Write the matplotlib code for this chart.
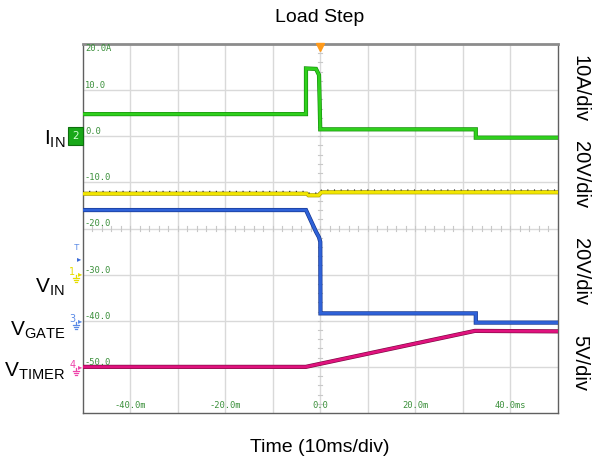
import matplotlib
matplotlib.use("Agg")
import matplotlib.pyplot as plt
import matplotlib.patheffects as pe
from matplotlib.lines import Line2D
import numpy as np

plt.rcParams['font.family'] = ['Liberation Sans', 'DejaVu Sans']
plt.rcParams['mathtext.fontset'] = 'custom'
plt.rcParams['mathtext.rm'] = 'Liberation Sans'
plt.rcParams['mathtext.it'] = 'Liberation Sans'

# ---------------- data (time in ms, values on the 10 A/div scale) ----------------
t_iin = [-50, -2.95, -2.95, -0.84, -0.21, -0.06, 0.05, 32.8, 32.8, 50]
v_iin = [4.8, 4.8, 14.7, 14.6, 13.3, 7.0, 1.5, 1.5, -0.3, -0.3]

t_vin = [-50, -2.8, -2.4, -0.3, 0.3, 50]
v_vin = [-12.45, -12.45, -12.8, -12.8, -12.15, -12.15]

t_vgate = [-50, -2.95, -0.84, -0.21, 0.06, 0.1, 32.8, 32.8, 50]
v_vgate = [-16.0, -16.0, -20.7, -21.9, -22.9, -38.4, -38.4, -40.4, -40.4]

t_vtimer = [-50, -3.0, 32.6, 50]
v_vtimer = [-50.0, -50.0, -42.2, -42.3]

y_tick_vals = [20, 10, 0, -10, -20, -30, -40, -50]
y_tick_text = ["20.0A", "10.0", "0.0", "-10.0", "-20.0", "-30.0", "-40.0", "-50.0"]
x_tick_vals = [-40, -20, 0, 20, 40]
x_tick_text = ["-40.0m", "-20.0m", "0.0", "20.0m", "40.0ms"]

scale_labels = ["10A/div", "20V/div", "20V/div", "5V/div"]
# ------------------------------------------------------------------------------------

W, H = 592, 471
fig = plt.figure(figsize=(W / 100, H / 100), dpi=100)

def fx(px):
    return px / W

def fy(py):
    return 1 - py / H

ax = fig.add_axes([fx(82.5), fy(413), fx(557.5) - fx(82.5), fy(44) - fy(413)])
ax.set_xlim(-50, 50)
ax.set_ylim(-60, 20)
ax.set_xticks([])
ax.set_yticks([])

# grid
for gx in np.arange(-40, 50, 10):
    ax.axvline(gx, color='#d9d9d9', lw=1.0, zorder=0)
for gy in np.arange(-50, 20, 10):
    ax.axhline(gy, color='#d9d9d9', lw=1.0, zorder=0)

# center-line minor ticks
for mt in np.arange(-50, 50.01, 2):
    ax.plot([mt, mt], [-20 - 0.45, -20 + 0.45], color='#c8c8c8', lw=0.8, zorder=0)
for mt in np.arange(-60, 20.01, 2):
    ax.plot([-0.45, 0.45], [mt, mt], color='#c8c8c8', lw=0.8, zorder=0)

for s in ['left', 'bottom', 'right']:
    ax.spines[s].set_color('#606060')
    ax.spines[s].set_linewidth(1.0)
ax.spines['top'].set_color('#8c8c8c')
ax.spines['top'].set_linewidth(2.0)

# traces
def trace(t, v, light, dark, z):
    ax.plot(t, v, color=light, lw=2.1, solid_joinstyle='miter', zorder=z,
            path_effects=[pe.Stroke(linewidth=3.0, foreground=dark), pe.Normal()])

trace(t_vin, v_vin, '#f2e600', '#a89c00', 3)
ax.plot(t_vin, np.array(v_vin) + 0.5, color='#202020', lw=0.8, ls=(0, (1, 5)), zorder=3)
trace(t_iin, v_iin, '#2fd01c', '#138a0a', 4)
trace(t_vgate, v_vgate, '#2f62d8', '#14338a', 4)
trace(t_vtimer, v_vtimer, '#e0127e', '#7a0a40', 4)

# trigger marker
ax.plot([0], [19.3], marker='v', color='#ff9a1a', markersize=6, clip_on=False, zorder=6)

# scope scale labels
green_txt = '#3a8f3a'
for val, txt in zip(y_tick_vals, y_tick_text):
    off = -0.9 if val == 20 else 1.0
    ax.text(-49.5, val + off, txt, color=green_txt, fontsize=6.3,
            family='DejaVu Sans Mono', ha='left', va='center', zorder=5)
for val, txt in zip(x_tick_vals, x_tick_text):
    ax.text(val, -59.4, txt, color=green_txt, fontsize=6.3,
            family='DejaVu Sans Mono', ha='center', va='bottom', zorder=5)

# channel markers on left
def ground(px, py, color):
    # small ground symbol drawn as lines (no installed font has the glyph)
    lines = [((px, px), (py, py + 3)),
             ((px - 3, px + 3), (py + 3, py + 3)),
             ((px - 2, px + 2), (py + 5, py + 5)),
             ((px - 1, px + 1), (py + 7, py + 7))]
    for xs, ys in lines:
        fig.add_artist(Line2D([fx(xs[0]), fx(xs[1])], [fy(ys[0]), fy(ys[1])],
                              color=color, lw=0.9, transform=fig.transFigure))

def chan_marker(py, label, color, box=False):
    if box:
        fig.text(fx(75.5), fy(py), label, color='#d0ffd0', fontsize=7.5, ha='center', va='center',
                 family='DejaVu Sans',
                 bbox=dict(boxstyle='square,pad=0.4', fc='#18a818', ec='#0e6e0e', lw=0.8))
    else:
        fig.text(fx(72.5), fy(py - 2), label, color=color, fontsize=7, ha='center', va='center',
                 family='DejaVu Sans')
        ground(76, py + 1, color)
    fig.text(fx(80), fy(py), '▸', color=color, fontsize=6, ha='center', va='center',
             family='DejaVu Sans')

chan_marker(136, '2', '#18a818', box=True)
chan_marker(274, '1', '#e6dc00')
chan_marker(321, '3', '#5a8ae6')
chan_marker(367, '4', '#ee44aa')
fig.text(fx(77), fy(248), 'T', color='#5a8ae6', fontsize=6.5, ha='center', va='center')
fig.text(fx(79), fy(259), '▸', color='#3a6ad6', fontsize=6, ha='center', va='center',
         family='DejaVu Sans')

# signal names
big = 15
fig.text(fx(65), fy(139), r'$\mathrm{I}_{\mathrm{IN}}$', fontsize=big, ha='right', va='center')
fig.text(fx(65), fy(287), r'$\mathrm{V}_{\mathrm{IN}}$', fontsize=big, ha='right', va='center')
fig.text(fx(65), fy(330), r'$\mathrm{V}_{\mathrm{GATE}}$', fontsize=big, ha='right', va='center')
fig.text(fx(65), fy(371), r'$\mathrm{V}_{\mathrm{TIMER}}$', fontsize=big, ha='right', va='center')

# per-division labels on right
for yc, txt in zip([89, 175, 272, 363], scale_labels):
    fig.text(fx(580), fy(yc), txt, fontsize=14.5, rotation=270, ha='center', va='center')

fig.text(fx(320), fy(17), 'Load Step', fontsize=14, ha='center', va='center')
fig.text(fx(320), fy(448), 'Time (10ms/div)', fontsize=14, ha='center', va='center')

fig.savefig('out.png', dpi=100)
